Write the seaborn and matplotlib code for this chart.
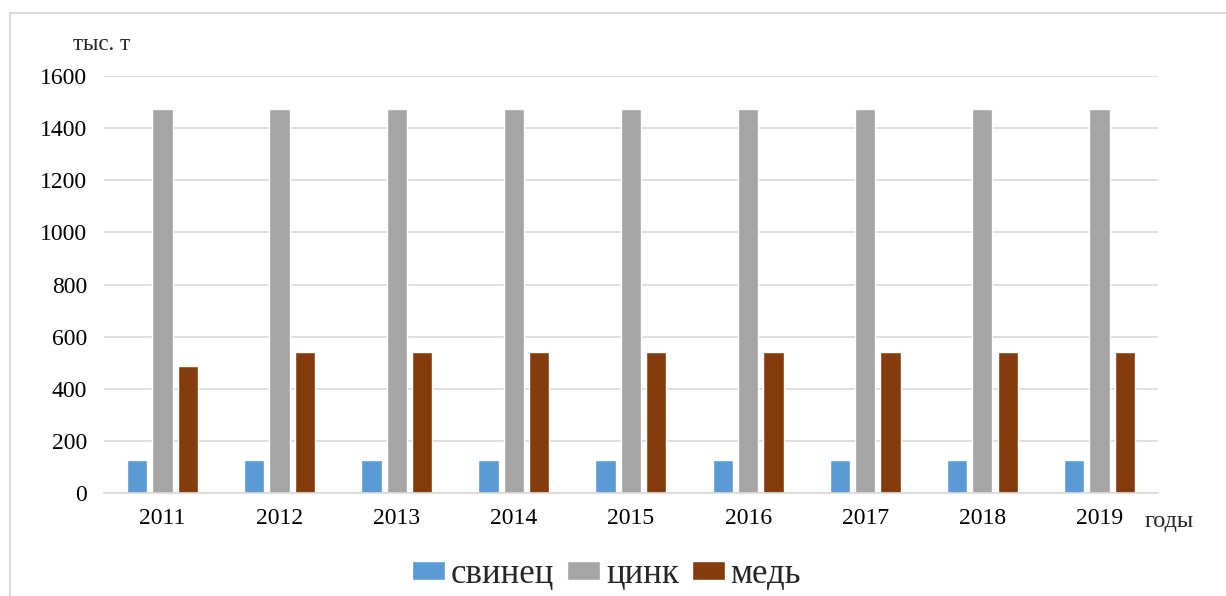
import numpy as np
import pandas as pd
import seaborn as sns
import matplotlib.pyplot as plt
from matplotlib.patches import Rectangle

years = ['2011', '2012', '2013', '2014', '2015', '2016', '2017', '2018', '2019']
lead = [125, 125, 125, 125, 125, 125, 125, 125, 125]        # свинец
zinc = [1475, 1475, 1475, 1475, 1475, 1475, 1475, 1475, 1475]  # цинк
copper = [487, 540, 540, 540, 540, 540, 540, 540, 540]     # медь
series = ['свинец', 'цинк', 'медь']
colors = ['#5B9BD5', '#A5A5A5', '#843C0C']

df = pd.DataFrame({'год': years, 'свинец': lead, 'цинк': zinc, 'медь': copper})
long = df.melt(id_vars='год', var_name='металл', value_name='тыс. т')

sns.set_style('white')
plt.rcParams['font.family'] = ['Liberation Serif', 'DejaVu Serif']

fig = plt.figure(figsize=(12.26, 5.96), dpi=100)
ax = fig.add_axes([0.0848, 0.1728, 0.8597, 0.6997])

sns.barplot(data=long, x='год', y='тыс. т', hue='металл', hue_order=series,
            palette=colors, width=0.65, gap=0.2, saturation=1, ax=ax)

ax.set_ylim(0, 1600)
ax.set_yticks(np.arange(0, 1601, 200))
ax.yaxis.grid(True, color='#D9D9D9', linewidth=1.2)
ax.set_axisbelow(True)
for s in ['top', 'right', 'left']:
    ax.spines[s].set_visible(False)
ax.spines['bottom'].set_color('#D9D9D9')
ax.spines['bottom'].set_linewidth(1.2)
ax.tick_params(axis='both', length=0, labelsize=17, colors='black')
ax.tick_params(axis='y', pad=12)
ax.tick_params(axis='x', pad=11)
ax.set_xlabel('')
ax.set_ylabel('')

fig.text(73 / 1226, 1 - 45 / 596, 'тыс. т', fontsize=16.5, va='center', ha='left')
fig.text(1145 / 1226, 1 - 521 / 596, 'годы', fontsize=17.5, va='center', ha='left')

ax.legend(loc='center', bbox_to_anchor=(0.477, -0.195), ncol=3, frameon=False,
          fontsize=25, handlelength=0.95, handleheight=0.5, handletextpad=0.17,
          columnspacing=0.37)

fig.patches.append(Rectangle((10 / 1226, -0.1), 1.2, 1.1 - 13 / 596, transform=fig.transFigure,
                             fill=False, edgecolor='#D9D9D9', linewidth=1.5))

fig.savefig('out.png', dpi=100)
